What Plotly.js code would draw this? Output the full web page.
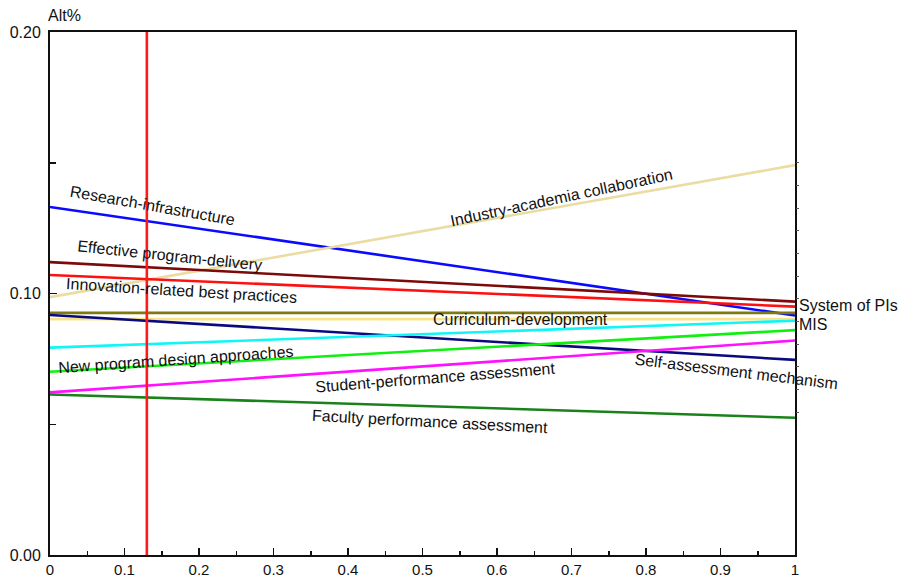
<!DOCTYPE html>
<html>
<head>
<meta charset="utf-8">
<script src="https://cdn.plot.ly/plotly-3.0.1.min.js"></script>
<style>
  html, body { margin: 0; padding: 0; background: #fff; }
  #chart { width: 904px; height: 579px; }
</style>
</head>
<body>
<div id="chart"></div>
<script>
// Sensitivity range (x) end points
const xRange = [0, 1];

// Series names
const seriesNames = [
  "Research-infrastructure",
  "Industry-academia collaboration",
  "Effective program-delivery",
  "Innovation-related best practices",
  "System of PIs",
  "Curriculum-development",
  "Self-assessment mechanism",
  "MIS",
  "New program design approaches",
  "Student-performance assessment",
  "Faculty performance assessment"
];

// Alt% values at x = 0 and x = 1
const researchInfra     = [0.1331, 0.0916];
const industryAcademia  = [0.0986, 0.1491];
const effectiveDelivery = [0.1120, 0.0969];
const innovationBest    = [0.1071, 0.0950];
const systemOfPIs       = [0.0926, 0.0926];
const curriculumDev     = [0.0902, 0.0902];
const selfAssessment    = [0.0918, 0.0746];
const mis               = [0.0793, 0.0896];
const newProgramDesign  = [0.0701, 0.0860];
const studentPerf       = [0.0622, 0.0820];
const facultyPerf       = [0.0614, 0.0525];

// Current weight marker
const currentWeight = [0.13, 0.13];
const currentWeightY = [0, 0.2];

// Tick labels
const xTickVals = [0, 0.1, 0.2, 0.3, 0.4, 0.5, 0.6, 0.7, 0.8, 0.9, 1];
const xTickText = ["0", "0.1", "0.2", "0.3", "0.4", "0.5", "0.6", "0.7", "0.8", "0.9", "1"];
const yTickVals = [0, 0.1, 0.2];
const yTickText = ["0.00", "0.10", "0.20"];
const rightTickVals = [0.150, 0.1413, 0.1326, 0.1240, 0.1153, 0.1066, 0.0979, 0.0892, 0.0806, 0.0719, 0.0632, 0.0545];

const seriesValues = [researchInfra, industryAcademia, effectiveDelivery, innovationBest,
  systemOfPIs, curriculumDev, selfAssessment, mis, newProgramDesign, studentPerf, facultyPerf];
const seriesColors = ["#0a0aff", "#eadca2", "#7d0a0a", "#ff1010", "#7f7a10", "#f6e38a",
  "#0a0a80", "#10f6f6", "#10f010", "#ff10ff", "#1a821a"];

const traces = seriesValues.map((v, i) => ({
  type: "scatter", mode: "lines", x: xRange, y: v, name: seriesNames[i],
  line: { color: seriesColors[i], width: 2.6 }, hoverinfo: "skip"
}));
traces.push({
  type: "scatter", mode: "lines", x: currentWeight, y: currentWeightY,
  line: { color: "#ff1a1a", width: 2.6 }, hoverinfo: "skip"
});
// invisible trace for right-side axis ticks
traces.push({ type: "scatter", mode: "none", x: [0], y: [0.1], yaxis: "y2", hoverinfo: "skip" });

const F = "Liberation Sans, Arial, Helvetica, sans-serif";
const lab = (text, x, y, ang, xa, xr) => ({
  text, x, y, xref: xr || "x", yref: "y", showarrow: false, textangle: ang,
  xanchor: xa || "center", yanchor: "middle", font: { family: F, size: 16, color: "#111" }
});

const annotations = [
  lab(seriesNames[0], 0.137, 0.1338, 10),
  lab(seriesNames[1], 0.686, 0.1369, -12),
  lab(seriesNames[2], 0.161, 0.1147, 6),
  lab(seriesNames[3], 0.176, 0.1013, 3.5),
  lab(seriesNames[5], 0.632, 0.0899, 0),
  lab(seriesNames[8], 0.169, 0.0746, -4),
  lab(seriesNames[9], 0.518, 0.0677, -4.5),
  lab(seriesNames[6], 0.922, 0.0700, 7),
  lab(seriesNames[10], 0.510, 0.0512, 3),
  lab(seriesNames[4], 1.003, 0.0956, 0, "left", "paper"),
  lab(seriesNames[7], 1.003, 0.0880, 0, "left", "paper"),
  { text: "Alt%", xref: "paper", yref: "paper", x: -0.005, y: 1.0325, xanchor: "left", yanchor: "middle",
    showarrow: false, font: { family: F, size: 16, color: "#111" } }
];

const layout = {
  width: 904, height: 579,
  margin: { l: 50, r: 109, t: 32, b: 24 },
  paper_bgcolor: "#fff", plot_bgcolor: "#fff",
  showlegend: false,
  font: { family: F, size: 16, color: "#111" },
  xaxis: {
    range: [0, 1], tickvals: xTickVals, ticktext: xTickText,
    ticks: "inside", ticklen: 7, tickwidth: 1.5, tickcolor: "#111",
    minor: { dtick: 0.05, ticks: "inside", ticklen: 4, tickwidth: 1.5, tickcolor: "#111" },
    showline: true, linecolor: "#111", linewidth: 2, mirror: true,
    showgrid: false, zeroline: false, fixedrange: true,
    ticklabelstandoff: 0,
    tickfont: { family: F, size: 15, color: "#111" }
  },
  yaxis: {
    range: [0, 0.2], tickvals: yTickVals, ticktext: yTickText,
    ticks: "inside", ticklen: 7, tickwidth: 1.5, tickcolor: "#111",
    minor: { tickvals: [0.05, 0.15], ticks: "inside", ticklen: 6, tickwidth: 1.5, tickcolor: "#111" },
    showline: true, linecolor: "#111", linewidth: 2, mirror: true,
    showgrid: false, zeroline: false, fixedrange: true,
    ticklabelstandoff: 4,
    tickfont: { family: F, size: 16, color: "#111" }
  },
  yaxis2: {
    overlaying: "y", side: "right", range: [0, 0.2],
    tickvals: rightTickVals, ticks: "outside", ticklen: 3, tickwidth: 1, tickcolor: "#555",
    showticklabels: false, showgrid: false, zeroline: false, showline: false, fixedrange: true
  },
  annotations
};

Plotly.newPlot("chart", traces, layout, { staticPlot: true, displayModeBar: false });
</script>
</body>
</html>
